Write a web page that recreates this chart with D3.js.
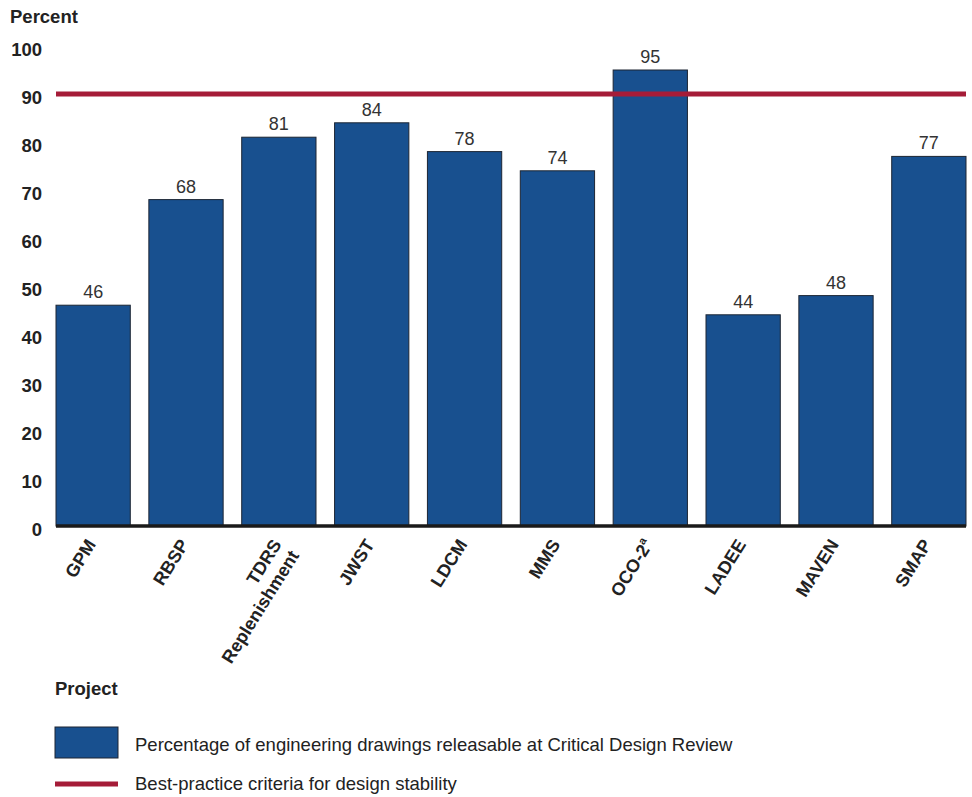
<!DOCTYPE html>
<html><head><meta charset="utf-8">
<script src="https://cdn.jsdelivr.net/npm/d3@7"></script>
<style>
body{margin:0;background:#fff;}
text{font-family:"Liberation Sans",Arial,Helvetica,sans-serif;}
</style></head>
<body>
<svg id="chart" width="972" height="797"></svg>
<script>
const categories = ["GPM","RBSP","TDRS|Replenishment","JWST","LDCM","MMS","OCO-2^a","LADEE","MAVEN","SMAP"];
const values = [46,68,81,84,78,74,95,44,48,77];
const criterion = 90;
const yTicks = [0,10,20,30,40,50,60,70,80,90,100];
const legendLabels = ["Percentage of engineering drawings releasable at Critical Design Review","Best-practice criteria for design stability"];

const svg = d3.select("#chart");
const blue = "#18508f", red = "#a51c38";
const x = d3.scaleBand().domain(categories).range([56,966]).paddingInner(0.2).paddingOuter(0);
const y = d3.scaleLinear().domain([0,100]).range([526,46]);

// y tick labels
svg.append("g").selectAll("text").data(yTicks).join("text")
  .attr("x",42).attr("y",d=>y(d)+3).attr("dy","0.36em")
  .attr("text-anchor","end").attr("font-weight","bold").attr("font-size",18.5).attr("fill","#222")
  .text(d=>d);
svg.append("text").attr("x",10).attr("y",23).attr("font-weight","bold").attr("font-size",18.5).attr("fill","#222").text("Percent");

// bars
svg.append("g").selectAll("rect").data(values).join("rect")
  .attr("x",(d,i)=>x(categories[i])).attr("width",x.bandwidth())
  .attr("y",d=>y(d)).attr("height",d=>y(0)-y(d))
  .attr("fill",blue).attr("stroke","#1c2533").attr("stroke-width",1);

// value labels
svg.append("g").selectAll("text").data(values).join("text")
  .attr("x",(d,i)=>x(categories[i])+x.bandwidth()/2).attr("y",d=>y(d)-7)
  .attr("text-anchor","middle").attr("font-size",18).attr("fill","#333").text(d=>d);

// baseline axis
svg.append("line").attr("x1",56).attr("x2",966).attr("y1",y(0)).attr("y2",y(0))
  .attr("stroke","#1a1a1a").attr("stroke-width",3.5);

// criterion line
svg.append("line").attr("x1",56).attr("x2",966).attr("y1",y(criterion)).attr("y2",y(criterion))
  .attr("stroke",red).attr("stroke-width",5);

// x labels
const xl = svg.append("g").selectAll("g").data(categories).join("g")
  .attr("transform",d=>`translate(${x(d)+x.bandwidth()/2-2},${y(0)+15}) rotate(-58)`);
xl.each(function(d){
  const g = d3.select(this);
  const t = g.append("text").attr("text-anchor","end").attr("font-weight","bold").attr("font-size",18).attr("fill","#222").attr("dy","0.35em");
  if(d.includes("|")){
    const parts = d.split("|");
    t.append("tspan").attr("x",0).text(parts[0]);
    t.append("tspan").attr("x",0).attr("dy","1.15em").text(parts[1]);
  } else if(d.includes("^")){
    const parts = d.split("^");
    t.append("tspan").text(parts[0]);
    t.append("tspan").attr("font-size",11).attr("dy","-0.7em").text(parts[1]);
  } else t.text(d);
});

// legend
svg.append("text").attr("x",55).attr("y",695).attr("font-weight","bold").attr("font-size",18.5).attr("fill","#222").text("Project");
svg.append("rect").attr("x",55).attr("y",727).attr("width",63).attr("height",31).attr("fill",blue).attr("stroke","#1c2533").attr("stroke-width",1);
svg.append("text").attr("x",135).attr("y",751).attr("font-size",18.5).attr("fill","#222").text(legendLabels[0]);
svg.append("line").attr("x1",55).attr("x2",118).attr("y1",784).attr("y2",784).attr("stroke",red).attr("stroke-width",5);
svg.append("text").attr("x",135).attr("y",790).attr("font-size",18.5).attr("fill","#222").text(legendLabels[1]);
</script>
</body></html>
